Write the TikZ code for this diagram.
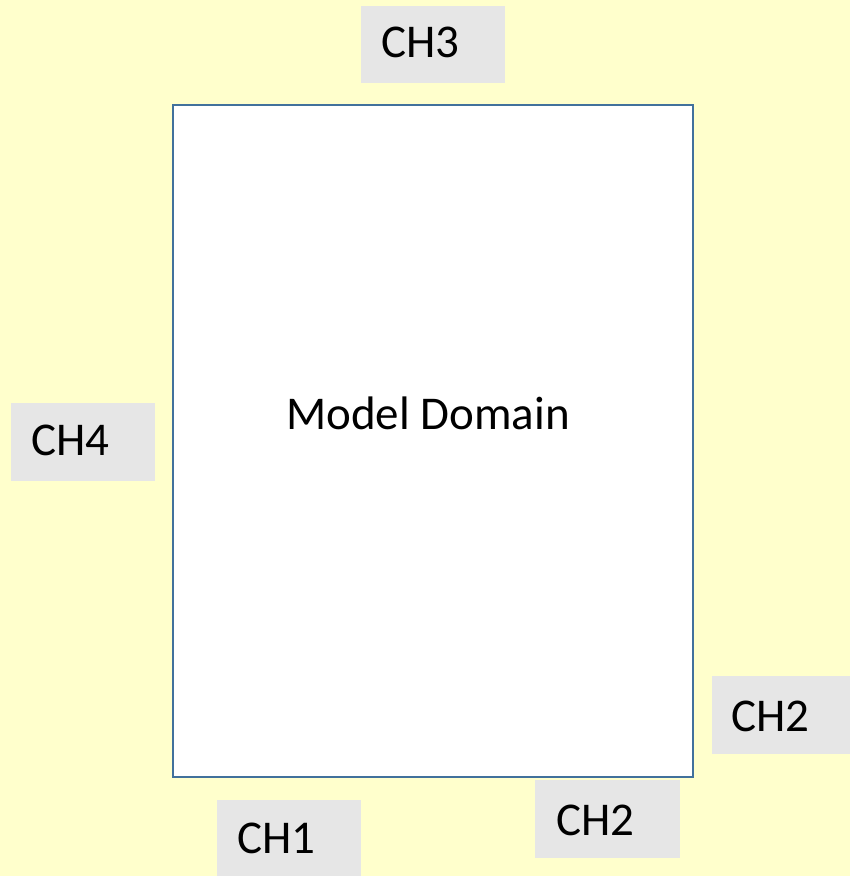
\documentclass[tikz,border=0pt]{standalone}
\usepackage{fontspec}
\setmainfont{Carlito}
\definecolor{bgyellow}{HTML}{FFFFCC}
\definecolor{boxgray}{HTML}{E6E6E6}
\definecolor{domainblue}{HTML}{41719C}
\begin{document}
\begin{tikzpicture}[x=1pt,y=-1pt,
  chbox/.style={fill=boxgray,draw=none},
  chlabel/.style={anchor=base west,inner sep=0pt,font=\fontsize{47}{56}\selectfont},
]
\fill[bgyellow] (0,0) rectangle (850,876);
\useasboundingbox (0,0) rectangle (850,876);
% model domain
\draw[domainblue,fill=white,line width=2.2pt] (173,105) rectangle (693,777);
\node[anchor=base,inner sep=0pt,font=\fontsize{47}{56}\selectfont] (md) at (428,429) {Model Domain};
% boxes
\fill[chbox] (361,6) rectangle (505,83);
\node[chlabel] (ch3) at (381,57) {CH3};
\fill[chbox] (11,403) rectangle (155,481);
\node[chlabel] (ch4) at (31,455) {CH4};
\fill[chbox] (712,676) rectangle (850,754);
\node[chlabel] (ch2a) at (731,731) {CH2};
\fill[chbox] (535,780) rectangle (680,858);
\node[chlabel] (ch2b) at (556,835) {CH2};
\fill[chbox] (217,800) rectangle (361,876);
\node[chlabel] (ch1) at (237,853) {CH1};
\end{tikzpicture}
\end{document}
